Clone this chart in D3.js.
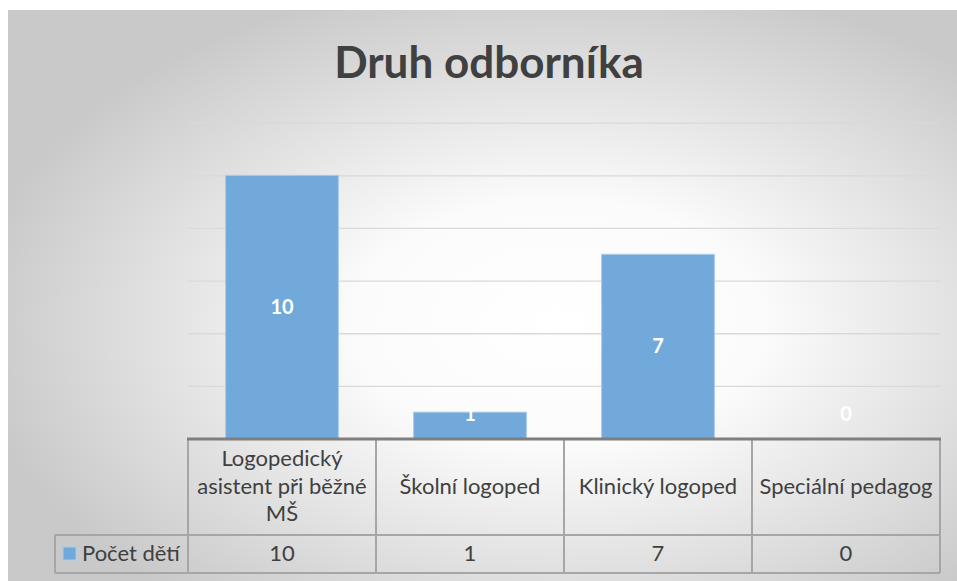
<!DOCTYPE html>
<html lang="cs">
<head>
<meta charset="utf-8">
<script src="https://d3js.org/d3.v7.min.js"></script>
<title>Druh odborníka</title>
<style>
  html, body { margin: 0; padding: 0; background: #fff; }
  svg { display: block; font-family: Lato, "Open Sans", sans-serif; }
</style>
</head>
<body>
<div id="chart"></div>
<script>
// data
const categories = ["Logopedický asistent při běžné MŠ", "Školní logoped", "Klinický logoped", "Speciální pedagog"];
const values = [10, 1, 7, 0];
const seriesName = "Počet dětí";
const yTicks = [0, 2, 4, 6, 8, 10, 12];
const title = "Druh odborníka";

const W = 957, H = 581;
const plotLeft = 188, plotRight = 940;
const plotTop = 122.7, plotBottom = 438.5;
const rowCat = 535, rowLegend = 573, legendLeft = 55;
const fs = 22;

const svg = d3.select("#chart").append("svg").attr("width", W).attr("height", H);

// background gradient
const defs = svg.append("defs");
const grad = defs.append("radialGradient").attr("id", "bg")
    .attr("cx", "58%").attr("cy", "55%").attr("r", "62%");
grad.append("stop").attr("offset", "0%").attr("stop-color", "#ffffff");
grad.append("stop").attr("offset", "35%").attr("stop-color", "#fbfbfb");
grad.append("stop").attr("offset", "100%").attr("stop-color", "#c9c9c9");
svg.append("rect").attr("x", 8).attr("y", 10).attr("width", W - 8).attr("height", H - 10)
   .attr("fill", "url(#bg)");

// title
svg.append("text").attr("x", 489).attr("y", 78).attr("text-anchor", "middle")
   .attr("font-size", 44).attr("font-weight", "bold").attr("fill", "#404040")
   .text(title);

// scales
const y = d3.scaleLinear().domain([0, 12]).range([plotBottom, plotTop]);
const x = d3.scaleBand().domain(categories).range([plotLeft, plotRight])
    .paddingInner(0.4).paddingOuter(0.2);
const cell = d3.scaleBand().domain(categories).range([plotLeft, plotRight]);

// gridlines
const grid = svg.append("g").attr("transform", "translate(" + plotLeft + ",0)")
   .call(d3.axisLeft(y).tickValues(yTicks).tickSize(-(plotRight - plotLeft)).tickFormat(""));
grid.select(".domain").remove();
grid.selectAll("line").attr("stroke", "#d9d9d9").attr("stroke-width", 1.3);

// bars
svg.selectAll("rect.bar").data(values).enter().append("rect")
   .attr("class", "bar")
   .attr("x", (d, i) => x(categories[i]))
   .attr("y", d => y(d))
   .attr("width", x.bandwidth())
   .attr("height", d => y(0) - y(d))
   .attr("fill", "#72a9db")
   .attr("stroke", "#a9cbea").attr("stroke-width", 1);

// data labels (white, bold)
svg.selectAll("text.lbl").data(values).enter().append("text")
   .attr("class", "lbl")
   .attr("x", (d, i) => x(categories[i]) + x.bandwidth() / 2)
   .attr("y", d => Math.min((y(d) + y(0)) / 2, y(0) - 25) + 7)
   .attr("text-anchor", "middle").attr("font-size", 20).attr("font-weight", "bold")
   .attr("fill", "#ffffff")
   .text(d => d);

// data table
const table = svg.append("g");
const lineCol = "#a6a6a6";
// vertical lines of category cells
cell.domain().forEach(c => {
  table.append("line").attr("x1", cell(c)).attr("x2", cell(c))
     .attr("y1", plotBottom).attr("y2", rowLegend).attr("stroke", lineCol).attr("stroke-width", 2);
});
table.append("line").attr("x1", plotRight).attr("x2", plotRight)
   .attr("y1", plotBottom).attr("y2", rowLegend).attr("stroke", lineCol).attr("stroke-width", 2);
table.append("line").attr("x1", legendLeft).attr("x2", legendLeft)
   .attr("y1", rowCat).attr("y2", rowLegend).attr("stroke", lineCol).attr("stroke-width", 2);
table.append("line").attr("x1", legendLeft).attr("x2", plotRight)
   .attr("y1", rowCat).attr("y2", rowCat).attr("stroke", lineCol).attr("stroke-width", 2);
table.append("line").attr("x1", legendLeft).attr("x2", plotRight)
   .attr("y1", rowLegend).attr("y2", rowLegend).attr("stroke", lineCol).attr("stroke-width", 2);
// axis line on top of table
table.append("line").attr("x1", plotLeft - 1).attr("x2", plotRight + 1)
   .attr("y1", plotBottom + 0.5).attr("y2", plotBottom + 0.5)
   .attr("stroke", "#7f7f7f").attr("stroke-width", 3);

// category labels, wrapped into the cell
const catText = table.selectAll("text.cat").data(categories).enter().append("text")
   .attr("class", "cat")
   .attr("text-anchor", "middle").attr("font-size", fs).attr("fill", "#404040")
   .attr("x", d => cell(d) + cell.bandwidth() / 2);
catText.each(function(d) {
  const t = d3.select(this);
  const words = d.split(" ");
  const maxW = cell.bandwidth() - 8;
  const lines = [];
  let cur = [];
  words.forEach(w => {
    cur.push(w);
    t.text(cur.join(" "));
    if (this.getComputedTextLength() > maxW && cur.length > 1) {
      cur.pop();
      lines.push(cur.join(" "));
      cur = [w];
    }
  });
  lines.push(cur.join(" "));
  t.text(null);
  const lh = 27.5;
  const mid = (plotBottom + rowCat) / 2 + 7;
  lines.forEach((l, i) => {
    t.append("tspan").attr("x", cell(d) + cell.bandwidth() / 2)
     .attr("y", mid + (i - (lines.length - 1) / 2) * lh).text(l);
  });
});

// legend row
table.append("rect").attr("x", 63).attr("y", 547).attr("width", 13).attr("height", 13)
   .attr("fill", "#72a9db").attr("stroke", "#a9cbea");
table.append("text").attr("x", 82).attr("y", 561).attr("font-size", fs).attr("fill", "#404040")
   .text(seriesName);
table.selectAll("text.val").data(values).enter().append("text")
   .attr("class", "val")
   .attr("x", (d, i) => cell(categories[i]) + cell.bandwidth() / 2)
   .attr("y", 561).attr("text-anchor", "middle").attr("font-size", fs).attr("fill", "#404040")
   .text(d => d);
</script>
</body>
</html>
